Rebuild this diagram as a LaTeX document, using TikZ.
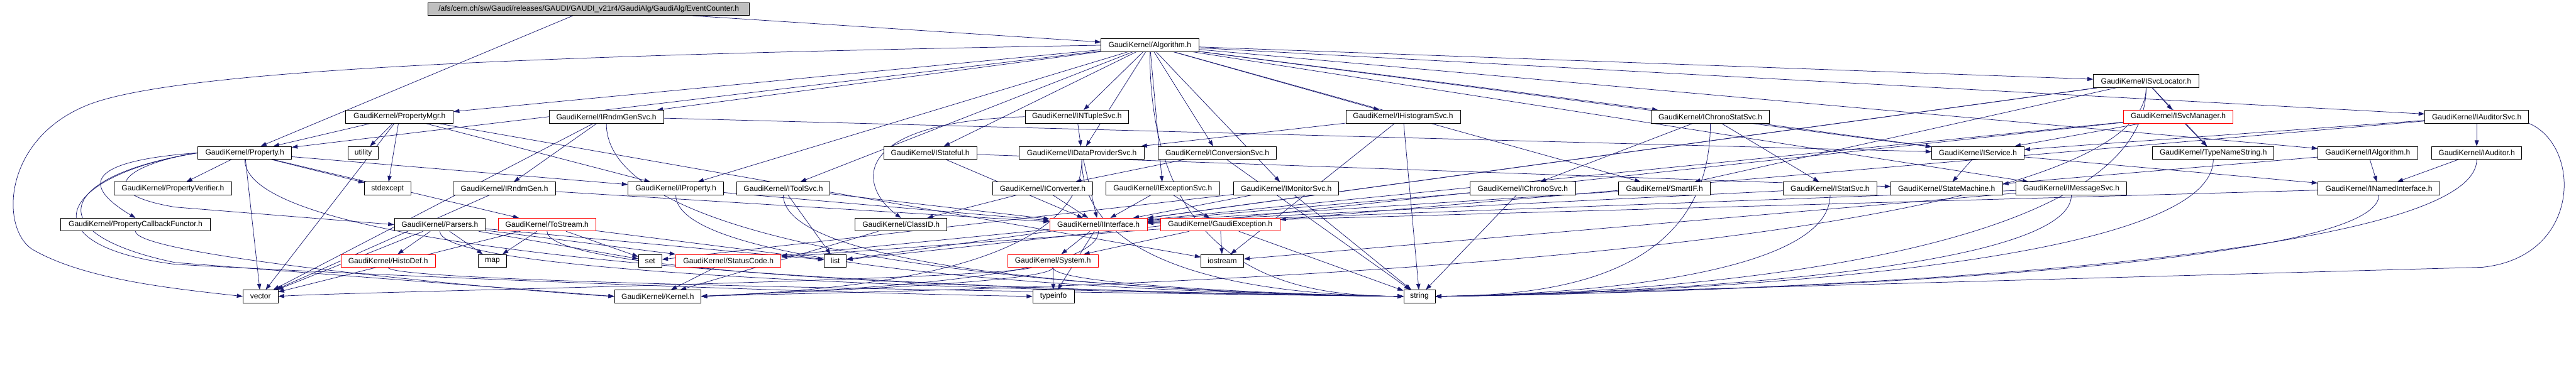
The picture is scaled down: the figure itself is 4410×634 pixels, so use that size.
\documentclass[tikz,border=0pt]{standalone}
\usepackage{fontspec}
\setmainfont{Liberation Sans}
\usetikzlibrary{arrows.meta}
\definecolor{edgecol}{RGB}{25,25,112}
\definecolor{rootgray}{RGB}{191,191,191}
\pgfdeclarelayer{edgelayer}
\pgfsetlayers{edgelayer,main}
\begin{document}
\begin{tikzpicture}[x=1pt,y=-1pt,
 box/.style={draw=black, fill=white, minimum height=22pt, inner sep=0pt, line width=0.9pt, font=\fontsize{13}{15}\selectfont},
 redbox/.style={box, draw=red},
 rootbox/.style={box, fill=rootgray},
 edge/.style={draw=edgecol, line width=0.8pt, -{Triangle[length=10pt,width=7pt]}}]
\useasboundingbox (0,0) rectangle (4410,634);
% row 0
\node[rootbox, minimum width=550pt] (root) at (1008,15.5) {/afs/cern.ch/sw/Gaudi/releases/GAUDI/GAUDI\_v21r4/GaudiAlg/GaudiAlg/EventCounter.h};
% row 1
\node[box, minimum width=167pt] (alg) at (1968.5,77.5) {GaudiKernel/Algorithm.h};
% row 2
\node[box, minimum width=180pt] (svcloc) at (3674,139) {GaudiKernel/ISvcLocator.h};
% row 3
\node[box, minimum width=184pt] (pmgr) at (684,200) {GaudiKernel/PropertyMgr.h};
\node[box, minimum width=196pt] (rgsvc) at (1038,200) {GaudiKernel/IRndmGenSvc.h};
\node[box, minimum width=177pt] (ntsvc) at (1843.5,200) {GaudiKernel/INTupleSvc.h};
\node[box, minimum width=196pt] (histsvc) at (2402,200) {GaudiKernel/IHistogramSvc.h};
\node[box, minimum width=202pt] (csssvc) at (2928,200) {GaudiKernel/IChronoStatSvc.h};
\node[redbox, minimum width=188pt] (svcmgr) at (3729,200) {GaudiKernel/ISvcManager.h};
\node[box, minimum width=178pt] (audsvc) at (4240,200) {GaudiKernel/IAuditorSvc.h};
% row 4
\node[box, minimum width=160pt] (prop) at (419,262) {GaudiKernel/Property.h};
\node[box, minimum width=52pt] (util) at (622,262) {utility};
\node[box, minimum width=159pt] (stateful) at (1592.5,262) {GaudiKernel/IStateful.h};
\node[box, minimum width=214pt] (dpsvc) at (1852,262) {GaudiKernel/IDataProviderSvc.h};
\node[box, minimum width=202pt] (convsvc) at (2084,262) {GaudiKernel/IConversionSvc.h};
\node[box, minimum width=158pt] (isvc) at (3386,262) {GaudiKernel/IService.h};
\node[box, minimum width=208pt] (tns) at (3789,262) {GaudiKernel/TypeNameString.h};
\node[box, minimum width=171pt] (ialg) at (4053.5,262) {GaudiKernel/IAlgorithm.h};
\node[box, minimum width=154pt] (iaud) at (4240,262) {GaudiKernel/IAuditor.h};
% row 5
\node[box, minimum width=202pt] (pver) at (296,323) {GaudiKernel/PropertyVerifier.h};
\node[box, minimum width=79pt] (stdexc) at (663.5,323) {stdexcept};
\node[box, minimum width=175pt] (rgen) at (863.5,323) {GaudiKernel/IRndmGen.h};
\node[box, minimum width=164pt] (iprop) at (1157,323) {GaudiKernel/IProperty.h};
\node[box, minimum width=160pt] (toolsvc) at (1341,323) {GaudiKernel/IToolSvc.h};
\node[box, minimum width=172pt] (iconv) at (1785,323) {GaudiKernel/IConverter.h};
\node[box, minimum width=195pt] (excsvc) at (1990.5,323) {GaudiKernel/IExceptionSvc.h};
\node[box, minimum width=180pt] (monsvc) at (2202,323) {GaudiKernel/IMonitorSvc.h};
\node[box, minimum width=180pt] (chrsvc) at (2607,323) {GaudiKernel/IChronoSvc.h};
\node[box, minimum width=157pt] (smartif) at (2849.5,323) {GaudiKernel/SmartIF.h};
\node[box, minimum width=160pt] (statsvc) at (3133,323) {GaudiKernel/IStatSvc.h};
\node[box, minimum width=191pt] (sm) at (3332.5,323) {GaudiKernel/StateMachine.h};
\node[box, minimum width=190pt] (msgsvc) at (3546,323) {GaudiKernel/IMessageSvc.h};
\node[box, minimum width=209pt] (nif) at (4072.5,323) {GaudiKernel/INamedInterface.h};
% row 6
\node[box, minimum width=256pt] (pcf) at (232,385) {GaudiKernel/PropertyCallbackFunctor.h};
\node[box, minimum width=156pt] (parsers) at (753,385) {GaudiKernel/Parsers.h};
\node[redbox, minimum width=167pt] (tostream) at (936.5,385) {GaudiKernel/ToStream.h};
\node[box, minimum width=157pt] (classid) at (1542.5,385) {GaudiKernel/ClassID.h};
\node[redbox, minimum width=167pt] (iif) at (1880.5,385) {GaudiKernel/IInterface.h};
\node[redbox, minimum width=204pt] (gexc) at (2089,385) {GaudiKernel/GaudiException.h};
% row 7
\node[redbox, minimum width=161pt] (histodef) at (664.5,447) {GaudiKernel/HistoDef.h};
\node[box, minimum width=48pt] (nmap) at (843,447) {map};
\node[box, minimum width=40pt] (nset) at (1113,447) {set};
\node[redbox, minimum width=180pt] (sc) at (1247,447) {GaudiKernel/StatusCode.h};
\node[box, minimum width=38pt] (nlist) at (1430,447) {list};
\node[redbox, minimum width=155pt] (nsystem) at (1802.5,447) {GaudiKernel/System.h};
\node[box, minimum width=73pt] (iostream) at (2092.5,447) {iostream};
% row 8
\node[box, minimum width=60pt] (nvector) at (446,508) {vector};
\node[box, minimum width=148pt] (kernel) at (1126,508) {GaudiKernel/Kernel.h};
\node[box, minimum width=71pt] (typeinfo) at (1803.5,508) {typeinfo};
\node[box, minimum width=54pt] (nstring) at (2430,508) {string};

\begin{pgfonlayer}{edgelayer}
% straight edges
\foreach \s/\t in {root/prop, root/alg,
 alg/pmgr, alg/rgsvc, alg/prop, alg/iprop, alg/toolsvc, alg/stateful, alg/ntsvc, alg/dpsvc, alg/excsvc, alg/convsvc, alg/monsvc, alg/histsvc, alg/csssvc, alg/isvc, alg/svcloc, alg/msgsvc, alg/audsvc, alg/ialg, alg/smartif,
 pmgr/util, pmgr/stdexc, pmgr/prop, pmgr/iprop, pmgr/nvector, pmgr/iostream,
 prop/pver, prop/stdexc, prop/tostream, prop/iprop, prop/nvector,
 parsers/histodef, parsers/nmap, parsers/nset, parsers/nlist, parsers/nvector, parsers/sc,
 tostream/nmap, tostream/nset, tostream/nlist, tostream/nvector,
 rgsvc/rgen, rgsvc/isvc, rgsvc/nvector,
 rgen/iif, rgen/nvector,
 iprop/iif,
 toolsvc/iif, toolsvc/nlist,
 ntsvc/dpsvc,
 stateful/iif, stateful/sm,
 dpsvc/iif,
 iconv/iif, iconv/classid,
 excsvc/iif, excsvc/gexc,
 convsvc/iconv, convsvc/nstring,
 monsvc/iif, monsvc/nset, monsvc/nstring,
 histsvc/dpsvc, histsvc/iostream, histsvc/nstring,
 csssvc/chrsvc, csssvc/statsvc, csssvc/isvc,
 chrsvc/iif, chrsvc/nstring,
 statsvc/iif,
 svcloc/svcmgr, svcloc/tns, svcloc/smartif, svcloc/iif, svcloc/nlist,
 svcmgr/tns, svcmgr/isvc, svcmgr/iif, svcmgr/nlist,
 isvc/sm, isvc/nif,
 msgsvc/iif, msgsvc/iostream,
 audsvc/iaud, audsvc/isvc, audsvc/gexc,
 ialg/nif, ialg/sm,
 iaud/nif,
 nif/iif,
 smartif/iif,
 iif/nsystem, iif/sc, iif/typeinfo,
 gexc/sc, gexc/nsystem, gexc/nstring, gexc/iostream,
 sc/kernel,
 nsystem/typeinfo,
 classid/kernel}
 \draw[edge] (\s) -- (\t);
% edges bundled into the left side of string
\foreach \s in {alg, prop, parsers, tostream, histodef, rgsvc, iprop, toolsvc, dpsvc, nsystem}
 \draw[edge] (\s) .. controls (\s.south |- 0,490) and (2250,506) .. (nstring.west);
% edges bundled into the right side of string
\foreach \s in {svcloc, tns, msgsvc, iaud, nif, statsvc, csssvc}
 \draw[edge] (\s) .. controls (\s.south |- 0,480) and (2650,506) .. (nstring.east);
% edges into Kernel.h
\foreach \s in {iif, nsystem, svcloc, dpsvc}
 \draw[edge] (\s) .. controls (\s.south |- 0,485) and (1350,500) .. (kernel.east);
\draw[edge] (pcf) .. controls (pcf.south |- 0,440) and (900,500) .. (kernel.west);
\draw[edge] (nsystem) .. controls (1700,480) and (600,500) .. (nvector.east);
\draw[edge] (prop.west) .. controls (100,300) and (40,420) .. (300,453) .. controls (600,470) and (1300,500) .. (typeinfo.west);
% curved edges
\draw[edge] (alg.west) .. controls (900,95) and (300,120) .. (150,180) .. controls (0,240) and (0,400) .. (60,430) .. controls (150,480) and (300,495) .. (nvector.west);
\draw[edge] (prop.west) .. controls (200,272) and (110,300) .. (pcf.north);
\draw[edge] (prop.west) .. controls (220,280) and (150,330) .. (300,355) -- (parsers.west);
\draw[edge] (prop.west) .. controls (100,300) and (60,400) .. (300,450) -- (kernel.west);
\draw[edge] (ntsvc.west) .. controls (1450,210) and (1470,320) .. (classid.north);
\draw[edge] (audsvc.south east) .. controls (4420,250) and (4420,440) .. (4250,458) -- (nstring.east);
\end{pgfonlayer}
\end{tikzpicture}
\end{document}
